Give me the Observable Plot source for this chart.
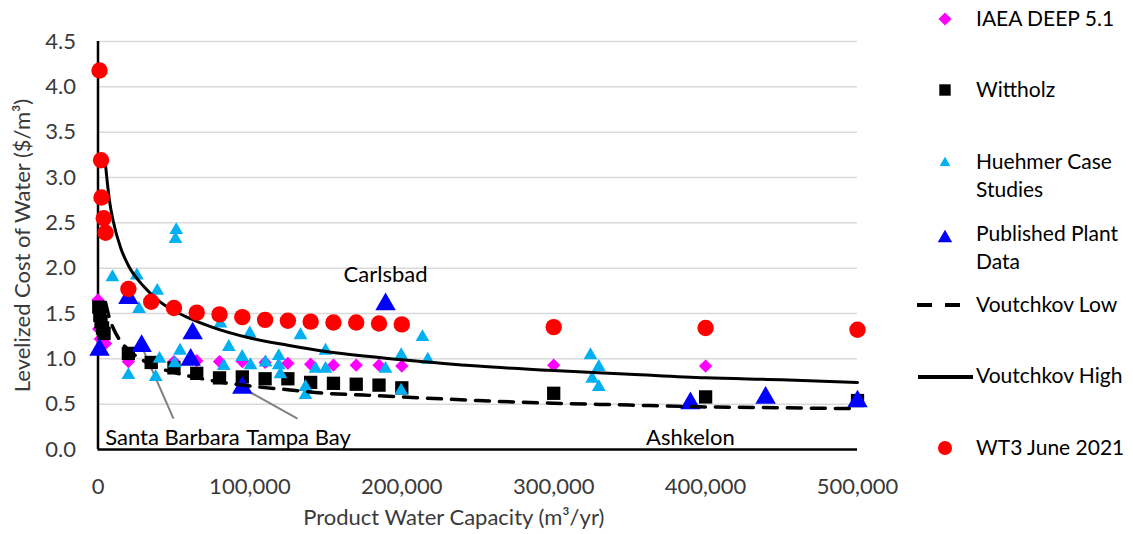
<!DOCTYPE html>
<html>
<head>
<meta charset="utf-8">
<script src="https://cdn.jsdelivr.net/npm/d3@7"></script>
<script src="https://cdn.jsdelivr.net/npm/@observablehq/plot@0.6"></script>
<style>
  html, body { margin: 0; padding: 0; background: #fff; }
  #wrap { position: relative; width: 1133px; height: 534px; font-family: Lato, "Open Sans", sans-serif; }
  #chart { position: absolute; left: 0; top: 0; }
  #legend { position: absolute; left: 905px; top: 0; }
</style>
</head>
<body>
<div id="wrap"><div id="chart"></div><div id="legend"></div></div>
<script>
// ---- data ----
const xTicks = [0, 100000, 200000, 300000, 400000, 500000];
const yTicks = [0, 0.5, 1.0, 1.5, 2.0, 2.5, 3.0, 3.5, 4.0, 4.5];

const seriesNames = ["IAEA DEEP 5.1", "Wittholz", "Huehmer Case Studies", "Published Plant Data", "Voutchkov Low", "Voutchkov High", "WT3 June 2021"];

const iaea = [[0,1.65],[500,1.33],[1500,1.22],[5000,1.17],[20000,0.97],[35000,0.95],[50000,0.97],[65000,0.98],[80000,0.97],[95000,0.97],[110000,0.96],[125000,0.95],[140000,0.94],[155000,0.93],[170000,0.93],[185000,0.93],[200000,0.92],[300000,0.93],[400000,0.92]];

const wittholz = [[500,1.57],[1200,1.48],[2000,1.41],[3000,1.34],[4000,1.28],[20000,1.06],[35000,0.96],[50000,0.90],[65000,0.84],[80000,0.79],[95000,0.80],[110000,0.78],[125000,0.78],[140000,0.74],[155000,0.73],[170000,0.72],[185000,0.71],[200000,0.68],[300000,0.62],[400000,0.58],[500000,0.54]];

const huehmer = [[9500,1.90],[25600,1.92],[27000,1.55],[39000,1.75],[51500,2.42],[51000,2.32],[54000,1.09],[20000,0.82],[38000,0.80],[40500,1.00],[50500,0.95],[80600,1.39],[86100,1.13],[99900,1.28],[94900,1.02],[100400,0.93],[82800,0.92],[110300,0.96],[119000,1.03],[119000,0.93],[120100,0.83],[133300,1.26],[136600,0.69],[136600,0.60],[143200,0.89],[149800,1.09],[149800,0.89],[189300,0.89],[199600,1.04],[199600,0.65],[213600,1.24],[217100,0.99],[324200,1.04],[329700,0.91],[325300,0.78],[329700,0.69]];

const published = [[1000,1.10],[20000,1.67],[28700,1.14],[62300,1.28],[61000,0.99],[95000,0.68],[189300,1.60],[390000,0.51],[439500,0.57],[500000,0.53]];

const voutchkovLow = [[5000,1.62],[7500,1.45],[10000,1.34],[15000,1.19],[20000,1.10],[30000,0.98],[40000,0.90],[50000,0.85],[60000,0.81],[75000,0.76],[100000,0.70],[125000,0.66],[150000,0.62],[175000,0.60],[200000,0.58],[250000,0.54],[300000,0.51],[350000,0.49],[400000,0.47],[450000,0.46],[500000,0.45]];

const voutchkovHigh = [[5000,3.13],[7500,2.75],[10000,2.52],[15000,2.22],[20000,2.03],[30000,1.80],[40000,1.64],[50000,1.53],[60000,1.45],[75000,1.35],[100000,1.23],[125000,1.15],[150000,1.08],[175000,1.03],[200000,0.99],[250000,0.92],[300000,0.87],[350000,0.83],[400000,0.79],[450000,0.77],[500000,0.74]];

const wt3 = [[1000,4.18],[2000,3.19],[2300,2.78],[3800,2.55],[5000,2.39],[20000,1.77],[35000,1.63],[50000,1.56],[65000,1.51],[80000,1.49],[95000,1.46],[110000,1.43],[125000,1.42],[140000,1.41],[155000,1.40],[170000,1.40],[185000,1.39],[200000,1.38],[300000,1.35],[400000,1.34],[500000,1.32]];

// annotation labels: text, label position, leader start (point), leader end
const annoText = ["Santa Barbara", "Tampa Bay", "Ashkelon", "Carlsbad"];
const annoLabelPos = [[49000,0.13],[132000,0.13],[390000,0.13],[189300,1.92]];
const leaderFrom = [[28700,1.14],[95000,0.68]];
const leaderTo = [[49700,0.34],[131300,0.34]];

const colors = {iaea:"#ff00ff", wittholz:"#000000", huehmer:"#00b0f0", published:"#0000ff", line:"#000000", wt3:"#ff0000"};
const FONT = "Lato, 'Open Sans', sans-serif";
const TEXT = "#3a3a3a";

const pts = a => a.map(([x,y]) => ({x, y}));

const chart = Plot.plot({
  width: 905, height: 534,
  marginLeft: 97.5, marginRight: 48, marginTop: 41, marginBottom: 85,
  style: {fontFamily: FONT, fontSize: "22px", color: TEXT, background: "white", overflow: "visible"},
  x: {domain: [0, 500000]},
  y: {domain: [0, 4.5]},
  marks: [
    Plot.gridY(yTicks.filter(d => d > 0), {stroke: "#d9d9d9", strokeOpacity: 1, strokeWidth: 1.5}),
    Plot.axisY({ticks: yTicks, tickFormat: d3.format(".1f"), tickSize: 0, tickPadding: 22, label: null, fontSize: 22}),
    Plot.axisX({ticks: xTicks, tickFormat: d3.format(","), tickSize: 0, tickPadding: 29, label: null, fontSize: 22}),
    Plot.ruleY([0], {stroke: "black", strokeWidth: 2.5}),
    Plot.ruleX([0], {stroke: "black", strokeWidth: 2.5}),
    Plot.text(["Levelized Cost of Water ($/m³)"], {frameAnchor: "left", textAnchor: "middle", rotate: -90, dx: -75, fontSize: 22, fill: TEXT}),
    Plot.text(["Product Water Capacity (m³/yr)"], {frameAnchor: "bottom", dy: 75, dx: -24, fontSize: 22, fill: TEXT}),
    Plot.link(leaderFrom.map((f,i) => ({x1:f[0], y1:f[1], x2:leaderTo[i][0], y2:leaderTo[i][1]})), {x1:"x1", y1:"y1", x2:"x2", y2:"y2", stroke:"#808080", strokeWidth: 2}),
    Plot.dot(pts(iaea), {x:"x", y:"y", symbol:"diamond2", r: 6, fill: colors.iaea, stroke: "none"}),
    Plot.dot(pts(wittholz), {x:"x", y:"y", symbol:"square", r: 7.5, fill: colors.wittholz, stroke: "none"}),
    Plot.dot(pts(huehmer), {x:"x", y:"y", symbol:"triangle", r: 5.1, fill: colors.huehmer, stroke: "none"}),
    Plot.dot(pts(published), {x:"x", y:"y", symbol:"triangle", r: 7.6, fill: colors.published, stroke: "none"}),
    Plot.line(pts(voutchkovLow), {x:"x", y:"y", stroke: colors.line, strokeWidth: 3.5, strokeDasharray: "14,10", strokeLinecap: "round", curve: "monotone-x"}),
    Plot.line(pts(voutchkovHigh), {x:"x", y:"y", stroke: colors.line, strokeWidth: 3, curve: "monotone-x"}),
    Plot.dot(pts(wt3), {x:"x", y:"y", symbol:"circle", r: 8.2, fill: colors.wt3, stroke: "none"}),
    Plot.text(annoText.map((t,i) => ({t, x: annoLabelPos[i][0], y: annoLabelPos[i][1]})), {x:"x", y:"y", text:"t", fontSize: 22, fill: "#000"})
  ]
});
document.getElementById("chart").appendChild(chart);

// ---- legend ----
const legendY = [19, 90, 162, 234, 305, 376, 448];
const lsvg = d3.create("svg").attr("width", 228).attr("height", 534).attr("font-family", FONT);
const mx = 40; // marker center (relative to legend left 905)
const sym = (type, size, color, cy) => lsvg.append("path")
  .attr("d", d3.symbol(type, size)()).attr("transform", `translate(${mx},${cy})`).attr("fill", color);
sym(d3.symbolDiamond2, 110, colors.iaea, legendY[0]);
sym(d3.symbolSquare, 130, colors.wittholz, legendY[1]);
sym(d3.symbolTriangle, 50, colors.huehmer, legendY[2] + 1);
sym(d3.symbolTriangle, 90, colors.published, legendY[3] + 4);
lsvg.append("line").attr("x1", 12).attr("x2", 56).attr("y1", legendY[4]).attr("y2", legendY[4])
  .attr("stroke", "black").attr("stroke-width", 4).attr("stroke-dasharray", "15,13");
lsvg.append("line").attr("x1", 13).attr("x2", 68).attr("y1", legendY[5] + 1).attr("y2", legendY[5] + 1)
  .attr("stroke", "black").attr("stroke-width", 4);
lsvg.append("circle").attr("cx", mx).attr("cy", legendY[6]).attr("r", 7).attr("fill", colors.wt3);
const legendLines = [["IAEA DEEP 5.1"], ["Wittholz"], ["Huehmer Case", "Studies"], ["Published Plant", "Data"], ["Voutchkov Low"], ["Voutchkov High"], ["WT3 June 2021"]];
legendLines.forEach((lines, i) => {
  lines.forEach((s, j) => {
    lsvg.append("text").attr("x", 71).attr("y", legendY[i] + j * 28).attr("dy", "0.35em")
      .attr("font-size", 21).attr("fill", "#000").text(s);
  });
});
document.getElementById("legend").appendChild(lsvg.node());
</script>
</body>
</html>
